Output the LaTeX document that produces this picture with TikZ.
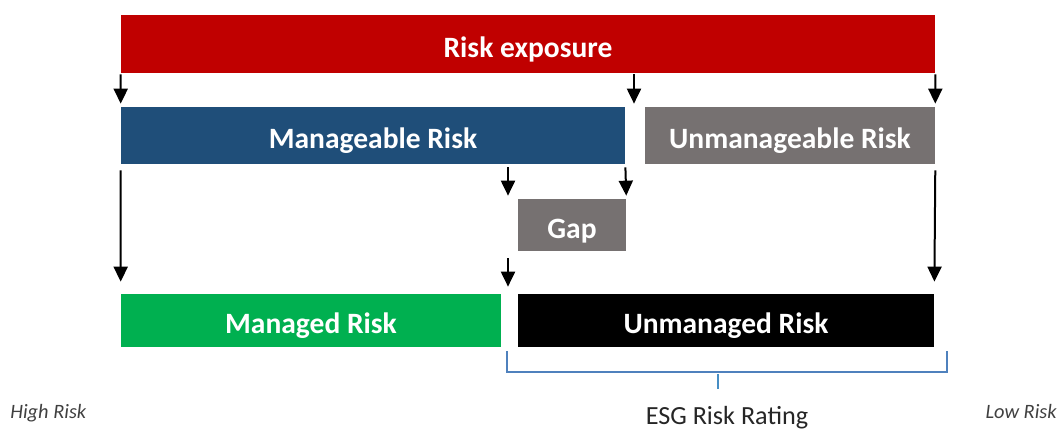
\documentclass[tikz,border=0pt]{standalone}
\usepackage{fontspec}
\setmainfont{Carlito}
\usetikzlibrary{arrows.meta}

\definecolor{riskred}{HTML}{C00000}
\definecolor{riskblue}{HTML}{1F4E79}
\definecolor{riskgray}{HTML}{767171}
\definecolor{riskgreen}{HTML}{00B050}
\definecolor{bracketblue}{HTML}{4F81BD}

\tikzset{
  bar/.style={rectangle, inner sep=0pt, text=white, text height=15pt, text depth=0pt,
    font=\fontsize{16.8}{19}\selectfont\bfseries},
  down/.style={-{Triangle[width=0.28cm,length=0.3cm]}, line width=0.04cm},
  sidenote/.style={text=black!75, font=\fontsize{11.6}{13}\selectfont\itshape, inner sep=0pt},
}

\begin{document}
\begin{tikzpicture}[x=0.02cm, y=-0.02cm]
\useasboundingbox (0,0) rectangle (1061,430);

% Risk exposure bar
\path 
(528,44) node [bar, fill=riskred, minimum width=16.28cm, minimum height=1.16cm] (exposure) {Risk exposure};

% Manageable / unmanageable
\path 
(373,135.5) node [bar, fill=riskblue, minimum width=10.08cm, minimum height=1.14cm] (manageable) {Manageable Risk};
\path 
(790,135.5) node [bar, fill=riskgray, minimum width=5.8cm, minimum height=1.14cm] (unmanageable) {Unmanageable Risk};

% Gap
\path 
(572,225) node [bar, fill=riskgray, minimum width=2.16cm, minimum height=1.04cm] (gap) {Gap};

% Managed / unmanaged
\path 
(311,320.5) node [bar, fill=riskgreen, minimum width=7.6cm, minimum height=1.06cm] (managed) {Managed Risk};
\path 
(726,320.5) node [bar, fill=black, minimum width=8.32cm, minimum height=1.06cm] (unmanaged) {Unmanaged Risk};

\coordinate (split) at (508,0);
\coordinate (middle) at (634,0);

% Arrows down from risk exposure
\draw[down, shorten <=0.02cm, shorten >=0.06cm] (exposure.south west) -- (manageable.north west);
\draw[down, shorten <=0.02cm, shorten >=0.06cm] (exposure.south -| middle) -- (manageable.north -| middle);
\draw[down, shorten <=0.02cm, shorten >=0.06cm] (exposure.south east) -- (unmanageable.north east);

% Arrows into the gap
\draw[down, shorten <=0.06cm, shorten >=0.06cm] (manageable.south -| split) -- (gap.north -| split);
\draw[down, shorten <=0.06cm, shorten >=0.06cm] (manageable.south east) -- (gap.north east);
\draw[down, shorten <=0.14cm, shorten >=0.14cm] (gap.south -| split) -- (unmanaged.north -| split);

% Long arrows
\draw[down, shorten <=0.12cm, shorten >=0.24cm] (manageable.south west) -- (managed.north west);
\draw[down, shorten <=0.12cm, shorten >=0.24cm] (unmanageable.south east) -- (unmanaged.north east);

% ESG bracket
\draw[bracketblue, line width=0.045cm] (507,351) -- (507,372) -- (947,372) -- (947,351);
\draw[bracketblue!90!cyan, line width=0.05cm] (718,374) -- (718,389);

\path 
(727,424) node [anchor=base, inner sep=0pt, text=black!85, font=\fontsize{14.9}{17}\selectfont] (rating) {ESG Risk Rating};
\path 
(10,418) node [sidenote, anchor=base west] (high) {High Risk};
\path 
(1057,418) node [sidenote, anchor=base east] (low) {Low Risk};

\end{tikzpicture}
\end{document}
